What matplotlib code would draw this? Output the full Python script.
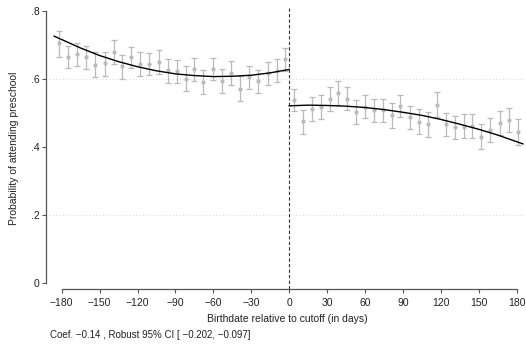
import matplotlib
matplotlib.use("Agg")
import matplotlib.pyplot as plt

plt.rcParams["font.family"] = ["Liberation Sans", "DejaVu Sans"]

# binned means with robust 95% CI, left of cutoff
left_x = [-182, -175, -168, -161, -154, -146, -139, -132, -125, -118, -111, -103, -96,
          -89, -82, -75, -68, -60, -53, -46, -39, -32, -25, -17, -10, -3]
left_y = [.705, .665, .674, .665, .642, .648, .679, .637, .664, .644, .645, .650, .626,
          .624, .600, .628, .591, .628, .593, .618, .571, .605, .593, .619, .624, .660]
left_lo = [.666, .631, .639, .628, .606, .610, .644, .600, .631, .609, .613, .615, .589,
           .587, .566, .593, .555, .596, .558, .582, .536, .570, .558, .581, .592, .624]
left_hi = [.742, .698, .707, .698, .680, .680, .714, .671, .695, .679, .677, .685, .659,
           .657, .637, .662, .626, .662, .628, .653, .609, .639, .626, .651, .659, .692]

# right of cutoff
right_x = [4, 11, 18, 25, 32, 39, 46, 53, 60, 67, 74, 81, 88,
           96, 103, 110, 117, 124, 131, 138, 145, 152, 159, 167, 174, 181]
right_y = [.539, .476, .513, .518, .541, .558, .542, .503, .519, .508, .509, .493, .521,
           .489, .474, .467, .524, .467, .459, .460, .461, .430, .449, .471, .480, .444]
right_lo = [.506, .438, .477, .481, .507, .523, .509, .468, .485, .474, .474, .457, .489,
            .454, .437, .430, .489, .432, .423, .425, .426, .394, .415, .434, .445, .407]
right_hi = [.570, .510, .547, .552, .576, .594, .576, .539, .554, .542, .541, .528, .554,
            .521, .511, .503, .562, .501, .492, .496, .498, .467, .486, .507, .514, .482]

# fitted curves
fit_left_x = [-186, -165, -150, -135, -120, -105, -90, -75, -60, -45, -30, -15, 0]
fit_left_y = [.726, .691, .669, .651, .636, .624, .615, .610, .607, .608, .611, .618, .628]
fit_right_x = [0, 15, 30, 45, 60, 75, 90, 105, 120, 135, 150, 165, 185]
fit_right_y = [.521, .523, .522, .520, .516, .510, .502, .493, .481, .467, .452, .435, .409]

x_ticks = [-180, -150, -120, -90, -60, -30, 0, 30, 60, 90, 120, 150, 180]
y_ticks = [0, .2, .4, .6, .8]
y_labels = ["0", ".2", ".4", ".6", ".8"]
grid_levels = [.2, .6]
note = "Coef. \u22120.14 , Robust 95% CI [ \u22120.202, \u22120.097]"

fig = plt.figure(figsize=(5.26, 3.47), dpi=100)
ax = fig.add_axes([0.0933, 0.1671, 0.9057, 0.811])

for g in grid_levels:
    ax.axhline(g, color="#dcdcdc", lw=0.8, ls=(0, (1, 2)), zorder=0)

err_col = "#bababa"
for xs, ys, lo, hi in [(left_x, left_y, left_lo, left_hi),
                       (right_x, right_y, right_lo, right_hi)]:
    yerr = [[y - l for y, l in zip(ys, lo)], [h - y for y, h in zip(ys, hi)]]
    ax.errorbar(xs, ys, yerr=yerr, fmt="o", ms=2.0, color=err_col,
                ecolor=err_col, elinewidth=0.9, capsize=2.5, capthick=0.9, zorder=2)

ax.plot(fit_left_x, fit_left_y, color="black", lw=1.0, zorder=3)
ax.plot(fit_right_x, fit_right_y, color="black", lw=1.0, zorder=3)
ax.axvline(0, color="#333333", lw=0.8, ls=(0, (3, 2)), zorder=1)

ax.set_xlim(-190, 187)
ax.set_ylim(-0.018, 0.81)
ax.set_xticks(x_ticks)
ax.set_xticklabels([str(t).replace("-", "\u2212") for t in x_ticks])
ax.set_yticks(y_ticks)
ax.set_yticklabels(y_labels)

for s in ["top", "right"]:
    ax.spines[s].set_visible(False)
ax.spines["left"].set_bounds(0, 0.8)
ax.spines["left"].set_position(("outward", 2))
ax.spines["bottom"].set_bounds(-180, 180)
for s in ["left", "bottom"]:
    ax.spines[s].set_color("#555555")
    ax.spines[s].set_linewidth(0.9)
ax.tick_params(axis="both", length=3, width=0.8, color="#555555",
               labelsize=7.5, labelcolor="#222222")
ax.tick_params(axis="x", pad=3.5)
ax.tick_params(axis="y", pad=2)

ax.set_xlabel("Birthdate relative to cutoff (in days)", fontsize=7.5,
              color="#222222", labelpad=4)
ax.set_ylabel("Probability of attending preschool", fontsize=7.5,
              color="#222222", labelpad=8)
fig.text(50 / 526, 1 - 335 / 347, note, fontsize=7, color="#222222",
         va="center", ha="left")

fig.savefig("out.png", dpi=100)
